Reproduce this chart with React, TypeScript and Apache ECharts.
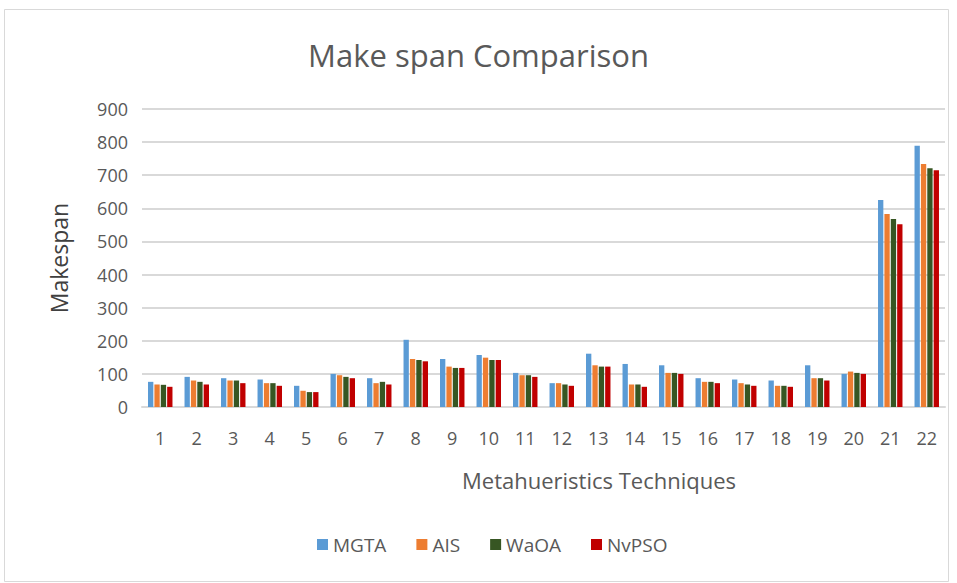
import React, { useEffect, useRef } from "react";
import * as echarts from "echarts";

const categories = ["1","2","3","4","5","6","7","8","9","10","11","12","13","14","15","16","17","18","19","20","21","22"];
const mgta = [76, 91, 87, 83, 64, 100, 87, 203, 145, 157, 103, 72, 161, 130, 126, 87, 83, 80, 126, 100, 625, 789];
const ais = [68, 80, 80, 72, 49, 96, 72, 145, 122, 149, 96, 72, 126, 68, 103, 76, 72, 64, 87, 107, 583, 734];
const waoa = [67, 76, 80, 72, 45, 91, 76, 142, 118, 142, 96, 68, 122, 68, 103, 76, 68, 64, 87, 103, 568, 721];
const nvpso = [61, 68, 72, 64, 45, 87, 68, 138, 118, 142, 91, 64, 122, 61, 100, 72, 64, 61, 80, 100, 552, 715];
const yTicks = [0, 100, 200, 300, 400, 500, 600, 700, 800, 900];

const seriesNames = ["MGTA", "AIS", "WaOA", "NvPSO"];
const seriesData = [mgta, ais, waoa, nvpso];
const colors = ["#5B9BD5", "#ED7D31", "#375623", "#C00000"];

const FONT = "'Open Sans', 'Noto Sans', sans-serif";

export default function App() {
  const ref = useRef<HTMLDivElement>(null);
  useEffect(() => {
    if (!ref.current) return;
    const chart = echarts.init(ref.current, null, { renderer: "svg" });
    chart.setOption({
      animation: false,
      backgroundColor: "#ffffff",
      title: {
        text: "Make span Comparison",
        left: "center",
        top: 34,
        textStyle: { fontFamily: FONT, fontSize: 31, fontWeight: "normal", color: "#595959" },
      },
      legend: {
        data: seriesNames,
        bottom: 24,
        left: 312,
        itemWidth: 11,
        itemHeight: 11,
        itemGap: 30,
        icon: "rect",
        textStyle: { fontFamily: FONT, fontSize: 19, color: "#595959" },
      },
      grid: { left: 142, right: 12, top: 109, bottom: 176, containLabel: false },
      xAxis: {
        type: "category",
        data: categories,
        axisLine: { show: true, lineStyle: { color: "#D9D9D9", width: 2 } },
        axisTick: { show: false },
        axisLabel: { fontFamily: FONT, fontSize: 18, color: "#595959", margin: 22 },
      },
      yAxis: {
        type: "value",
        min: 0,
        max: 900,
        interval: 100,
        name: "Makespan",
        nameLocation: "middle",
        nameGap: 72,
        nameTextStyle: { fontFamily: FONT, fontSize: 23, color: "#404040" },
        axisLine: { show: false },
        axisTick: { show: false },
        axisLabel: {
          fontFamily: FONT,
          fontSize: 18,
          color: "#595959",
          margin: 14,
          formatter: (v: number) => (yTicks.includes(v) ? String(v) : ""),
        },
        splitLine: { lineStyle: { color: "#D9D9D9", width: 2 } },
      },
      series: seriesNames.map((name, i) => ({
        name,
        type: "bar",
        data: seriesData[i],
        barGap: "20%",
        barCategoryGap: "33%",
        itemStyle: { color: colors[i] },
      })),
      graphic: [
        {
          type: "rect",
          shape: { x: 4.5, y: 9.5, width: 944, height: 572 },
          style: { fill: "none", stroke: "#D9D9D9", lineWidth: 1 },
          silent: true,
        },
        {
          type: "text",
          x: 599,
          y: 480,
          style: {
            text: "Metahueristics Techniques",
            fontFamily: FONT,
            fontSize: 22,
            fill: "#595959",
            textAlign: "center",
            textVerticalAlign: "middle",
          },
          silent: true,
        },
      ],
    });
    return () => chart.dispose();
  }, []);
  return (
    <div
      ref={ref}
      style={{ position: "fixed", left: 0, top: 0, width: 957, height: 583 }}
    />
  );
}
